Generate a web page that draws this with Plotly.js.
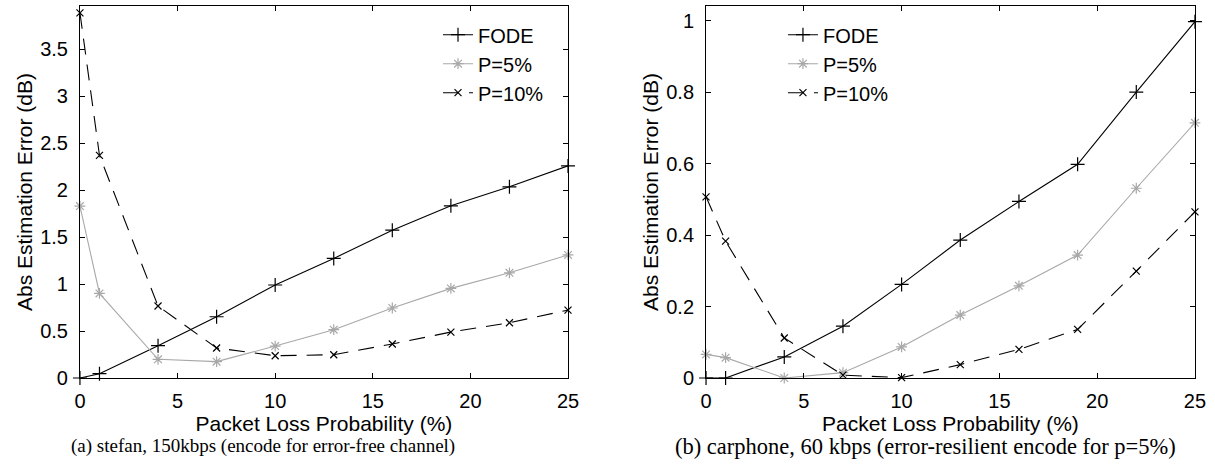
<!DOCTYPE html>
<html>
<head>
<meta charset="utf-8">
<script src="https://cdn.plot.ly/plotly-3.0.1.min.js"></script>
<style>html,body{margin:0;padding:0;background:#fff;}#chart{width:1215px;height:475px;}</style>
</head>
<body>
<div id="chart"></div>
<script>
// ---- data ----
var lossProb = [0, 1, 4, 7, 10, 13, 16, 19, 22, 25];
var seriesNames = ["FODE", "P=5%", "P=10%"];

// (a) stefan, 150kbps
var stefanFODE = [0, 0.046, 0.344, 0.652, 0.99, 1.273, 1.574, 1.833, 2.035, 2.258];
var stefanP5   = [1.83, 0.90, 0.199, 0.174, 0.34, 0.514, 0.745, 0.954, 1.12, 1.31];
var stefanP10  = [3.886, 2.37, 0.766, 0.319, 0.237, 0.248, 0.362, 0.489, 0.588, 0.723];

// (b) carphone, 60 kbps
var carFODE = [0, 0, 0.059, 0.145, 0.262, 0.386, 0.494, 0.598, 0.80, 0.997];
var carP5   = [0.066, 0.057, 0, 0.015, 0.087, 0.176, 0.258, 0.344, 0.531, 0.714];
var carP10  = [0.507, 0.383, 0.112, 0.008, 0.001, 0.0375, 0.08, 0.136, 0.299, 0.465];

var xTitle = "Packet Loss Probability (%)";
var yTitle = "Abs Estimation Error (dB)";
var captionA = "(a) stefan, 150kbps (encode for error-free channel)";
var captionB = "(b) carphone, 60 kbps (error-resilient encode for p=5%)";

// ---- styles ----
var styles = [
  {color: "#000000", dash: "solid", symbol: "cross-thin-open", msize: 10},
  {color: "#a8a8a8", dash: "solid", symbol: "asterisk-open", msize: 9},
  {color: "#000000", dash: "16px,10px", symbol: "x-thin-open", msize: 7}
];

function mk(x, y, i, xa, ya, leg) {
  var s = styles[i];
  return {
    x: x, y: y, type: "scatter", mode: "lines+markers",
    name: seriesNames[i], xaxis: xa, yaxis: ya, legend: leg,
    legendgroup: leg + i,
    cliponaxis: false,
    line: {color: s.color, width: 1.1, dash: s.dash},
    marker: {symbol: s.symbol, size: s.msize, color: s.color, line: {color: s.color, width: 1.2}}
  };
}

var traces = [
  mk(lossProb, stefanFODE, 0, "x", "y", "legend"),
  mk(lossProb, stefanP5, 1, "x", "y", "legend"),
  mk(lossProb, stefanP10, 2, "x", "y", "legend"),
  mk(lossProb, carFODE, 0, "x2", "y2", "legend2"),
  mk(lossProb, carP5, 1, "x2", "y2", "legend2"),
  mk(lossProb, carP10, 2, "x2", "y2", "legend2")
];

var sans = "Liberation Sans, Arial, sans-serif";
var fontTick = {family: sans, size: 20, color: "#000"};
var fontTitle = {family: sans, size: 21, color: "#000"};

function xaxis(domain, anchor) {
  return {
    domain: domain, anchor: anchor, range: [0, 25], dtick: 5, tick0: 0,
    showline: true, linecolor: "#000", linewidth: 1, mirror: "allticks",
    ticks: "inside", ticklen: 5, tickwidth: 1, tickcolor: "#000",
    showgrid: false, zeroline: false, tickfont: fontTick,
    ticklabelstandoff: 5,
    title: {text: xTitle, font: fontTitle, standoff: 0}
  };
}
function yaxis(domain, anchor, range, dtick) {
  return {
    domain: domain, anchor: anchor, range: range, dtick: dtick, tick0: 0,
    showline: true, linecolor: "#000", linewidth: 1, mirror: "allticks",
    ticks: "inside", ticklen: 5, tickwidth: 1, tickcolor: "#000",
    showgrid: false, zeroline: false, tickfont: fontTick,
    ticklabelstandoff: 7,
    title: {text: yTitle, font: fontTitle, standoff: 1}
  };
}

var yDom = [0.2042, 0.9874];
var legFont = {family: sans, size: 20, color: "#000"};

var layout = {
  width: 1215, height: 475,
  margin: {l: 0, r: 0, t: 0, b: 0},
  paper_bgcolor: "#fff", plot_bgcolor: "#fff",
  showlegend: true,
  xaxis: xaxis([0.0658, 0.4675], "y"),
  yaxis: yaxis(yDom, "x", [0, 3.96], 0.5),
  xaxis2: xaxis([0.5811, 0.9835], "y2"),
  yaxis2: yaxis(yDom, "x2", [0, 1.041], 0.2),
  legend: {x: 0.3605, y: 0.968, xanchor: "left", yanchor: "top", bgcolor: "rgba(0,0,0,0)",
           font: legFont, tracegroupgap: 0, itemwidth: 30},
  legend2: {x: 0.6444, y: 0.968, xanchor: "left", yanchor: "top", bgcolor: "rgba(0,0,0,0)",
            font: legFont, tracegroupgap: 0, itemwidth: 30},
  annotations: [
    {text: captionA, xref: "paper", yref: "paper", x: 263 / 1215, y: 1 - 446 / 475,
     xanchor: "center", yanchor: "middle", showarrow: false,
     font: {family: "Liberation Serif, Times New Roman, serif", size: 19, color: "#000"}},
    {text: captionB, xref: "paper", yref: "paper", x: 925 / 1215, y: 1 - 446 / 475,
     xanchor: "center", yanchor: "middle", showarrow: false,
     font: {family: "Liberation Serif, Times New Roman, serif", size: 22.5, color: "#000"}}
  ]
};

Plotly.newPlot("chart", traces, layout, {staticPlot: true, displayModeBar: false});
</script>
</body>
</html>
